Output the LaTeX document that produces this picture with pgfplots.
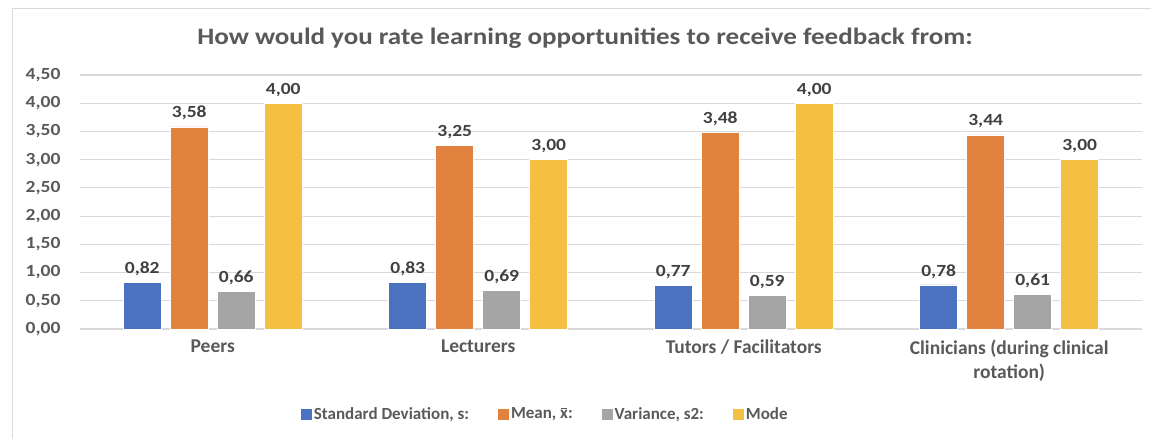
\documentclass[border=0pt]{standalone}
\usepackage{pgfplots}
\pgfplotsset{compat=1.18}
\usepackage{fontspec}
\setmainfont{Carlito}
\newfontfamily\wide{Carlito}[FakeStretch=1.15]
\definecolor{cblue}{HTML}{4A72C0}
\definecolor{corange}{HTML}{E2823F}
\definecolor{cgray}{HTML}{A5A5A5}
\definecolor{cyellow}{HTML}{F4BF42}
\definecolor{tgray}{HTML}{595959}
\definecolor{tlab}{HTML}{404040}
\definecolor{gridc}{HTML}{D9D9D9}
\pgfplotsset{sq legend/.style={legend image code/.code={\fill[##1,draw=none] (0pt,-5.5pt) rectangle (11pt,5.5pt);}}}
\newcommand\xbar{\rlap{\hspace{0.6pt}\rule[9.6pt]{6.4pt}{1.2pt}}x}
\begin{document}
\begin{tikzpicture}[x=1pt,y=1pt]
\path[use as bounding box] (0,0) rectangle (1151,439);
\draw[gridc, line width=1pt] (12,0) -- (12,430) -- (1151,430);
\node[font=\wide\fontsize{23.5}{28}\selectfont\bfseries, text=tgray] at (585,401) {How would you rate learning opportunities to receive feedback from:};
\begin{axis}[
  at={(80pt,110pt)}, anchor=south west,
  scale only axis, width=1062pt, height=254pt,
  ybar=9pt, bar width=38pt,
  xmin=-0.5, xmax=3.5, ymin=0, ymax=4.5,
  enlargelimits=false,
  axis line style={draw=none},
  major tick length=0pt,
  ymajorgrids, grid style={draw=gridc, line width=1.2pt},
  ytick={0,0.5,1,1.5,2,2.5,3,3.5,4,4.5},
  yticklabel style={font=\wide\fontsize{17}{20}\selectfont\bfseries, text=tgray, xshift=-16pt,
    /pgf/number format/.cd, fixed, fixed zerofill, precision=2, use comma, assume math mode=true},
  xtick={0,1,2,3},
  xticklabels={Peers, Lecturers, Tutors / Facilitators, {Clinicians (during clinical\\rotation)}},
  xticklabel style={align=center, font=\fontsize{19.5}{24}\selectfont\bfseries, text=tgray, yshift=-7pt},
  nodes near coords={\pgfmathprintnumber[fixed,fixed zerofill,precision=2,use comma,assume math mode=true]{\pgfplotspointmeta}},
  every node near coord/.append style={font=\wide\fontsize{17}{20}\selectfont\bfseries, text=tlab, yshift=3pt},
  legend columns=4,
  legend style={draw=none, fill=none, at={(0.205,-0.335)}, anchor=west,
    font=\fontsize{17}{20}\selectfont\bfseries, text=tgray,
    /tikz/every even column/.append style={column sep=27pt}},
]
\addplot[fill=cblue, draw=white, line width=0.6pt, sq legend] coordinates {(0,0.82) (1,0.83) (2,0.77) (3,0.78)};
\addplot[fill=corange, draw=white, line width=0.6pt, sq legend] coordinates {(0,3.58) (1,3.25) (2,3.48) (3,3.44)};
\addplot[fill=cgray, draw=white, line width=0.6pt, sq legend] coordinates {(0,0.66) (1,0.69) (2,0.59) (3,0.61)};
\addplot[fill=cyellow, draw=white, line width=0.6pt, sq legend] coordinates {(0,4.00) (1,3.00) (2,4.00) (3,3.00)};
\legend{{Standard Deviation, s:}, {Mean, \xbar:}, {Variance, s2:}, Mode}
\end{axis}
\end{tikzpicture}
\end{document}
